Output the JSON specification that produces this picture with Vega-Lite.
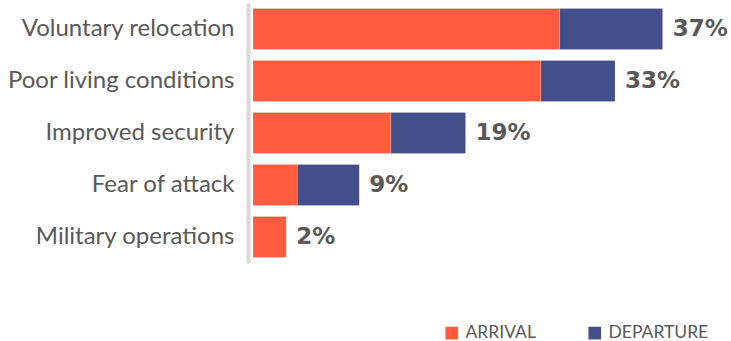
{
  "$schema": "https://vega.github.io/schema/vega-lite/v6.json",
  "width": 465,
  "height": 260,
  "autosize": "none",
  "padding": {"left": 253, "top": 3, "right": 13, "bottom": 78},
  "background": "white",
  "config": {"view": {"stroke": null}, "font": "Lato"},
  "datasets": {
    "segments": [
      {"cause": "Voluntary relocation", "type": "ARRIVAL", "value": 27.7},
      {"cause": "Voluntary relocation", "type": "DEPARTURE", "value": 9.3},
      {"cause": "Poor living conditions", "type": "ARRIVAL", "value": 26.0},
      {"cause": "Poor living conditions", "type": "DEPARTURE", "value": 6.7},
      {"cause": "Improved security", "type": "ARRIVAL", "value": 12.45},
      {"cause": "Improved security", "type": "DEPARTURE", "value": 6.75},
      {"cause": "Fear of attack", "type": "ARRIVAL", "value": 4.0},
      {"cause": "Fear of attack", "type": "DEPARTURE", "value": 5.6},
      {"cause": "Military operations", "type": "ARRIVAL", "value": 3.0}
    ],
    "totals": [
      {"cause": "Voluntary relocation", "total": 37.0, "label": "37%"},
      {"cause": "Poor living conditions", "total": 32.7, "label": "33%"},
      {"cause": "Improved security", "total": 19.2, "label": "19%"},
      {"cause": "Fear of attack", "total": 9.6, "label": "9%"},
      {"cause": "Military operations", "total": 3.0, "label": "2%"}
    ]
  },
  "encoding": {
    "y": {
      "field": "cause",
      "type": "nominal",
      "sort": ["Voluntary relocation", "Poor living conditions", "Improved security", "Fear of attack", "Military operations"],
      "scale": {"paddingInner": 0.21, "paddingOuter": 0.105},
      "axis": {
        "title": null,
        "ticks": false,
        "offset": 5,
        "domainColor": "#d9d9d9",
        "domainWidth": 4,
        "labelPadding": 14,
        "labelFont": "Lato",
        "labelFontSize": 24,
        "labelColor": "#595959",
        "labelLimit": 300
      }
    }
  },
  "layer": [
    {
      "data": {"name": "segments"},
      "mark": {"type": "bar", "stroke": "white", "strokeOpacity": 0.4, "strokeWidth": 0.5},
      "encoding": {
        "x": {
          "field": "value",
          "type": "quantitative",
          "stack": "zero",
          "scale": {"domain": [0, 42], "nice": false},
          "axis": null
        },
        "color": {
          "field": "type",
          "type": "nominal",
          "scale": {"domain": ["ARRIVAL", "DEPARTURE"], "range": ["#FF5B3F", "#444F89"]},
          "legend": {
            "title": null,
            "orient": "none",
            "direction": "horizontal",
            "legendX": 190,
            "legendY": 321,
            "symbolType": "square",
            "symbolSize": 160,
            "symbolStrokeWidth": 0,
            "labelFont": "Lato",
            "labelFontSize": 17.5,
            "labelColor": "#595959",
            "labelOffset": 5,
            "columnPadding": 50,
            "padding": 0
          }
        }
      }
    },
    {
      "data": {"name": "totals"},
      "mark": {"type": "text", "align": "left", "baseline": "middle", "dx": 10, "fontWeight": "bold", "fontSize": 23, "color": "#595959", "font": "DejaVu Sans"},
      "encoding": {
        "x": {"field": "total", "type": "quantitative"},
        "text": {"field": "label"}
      }
    }
  ]
}
